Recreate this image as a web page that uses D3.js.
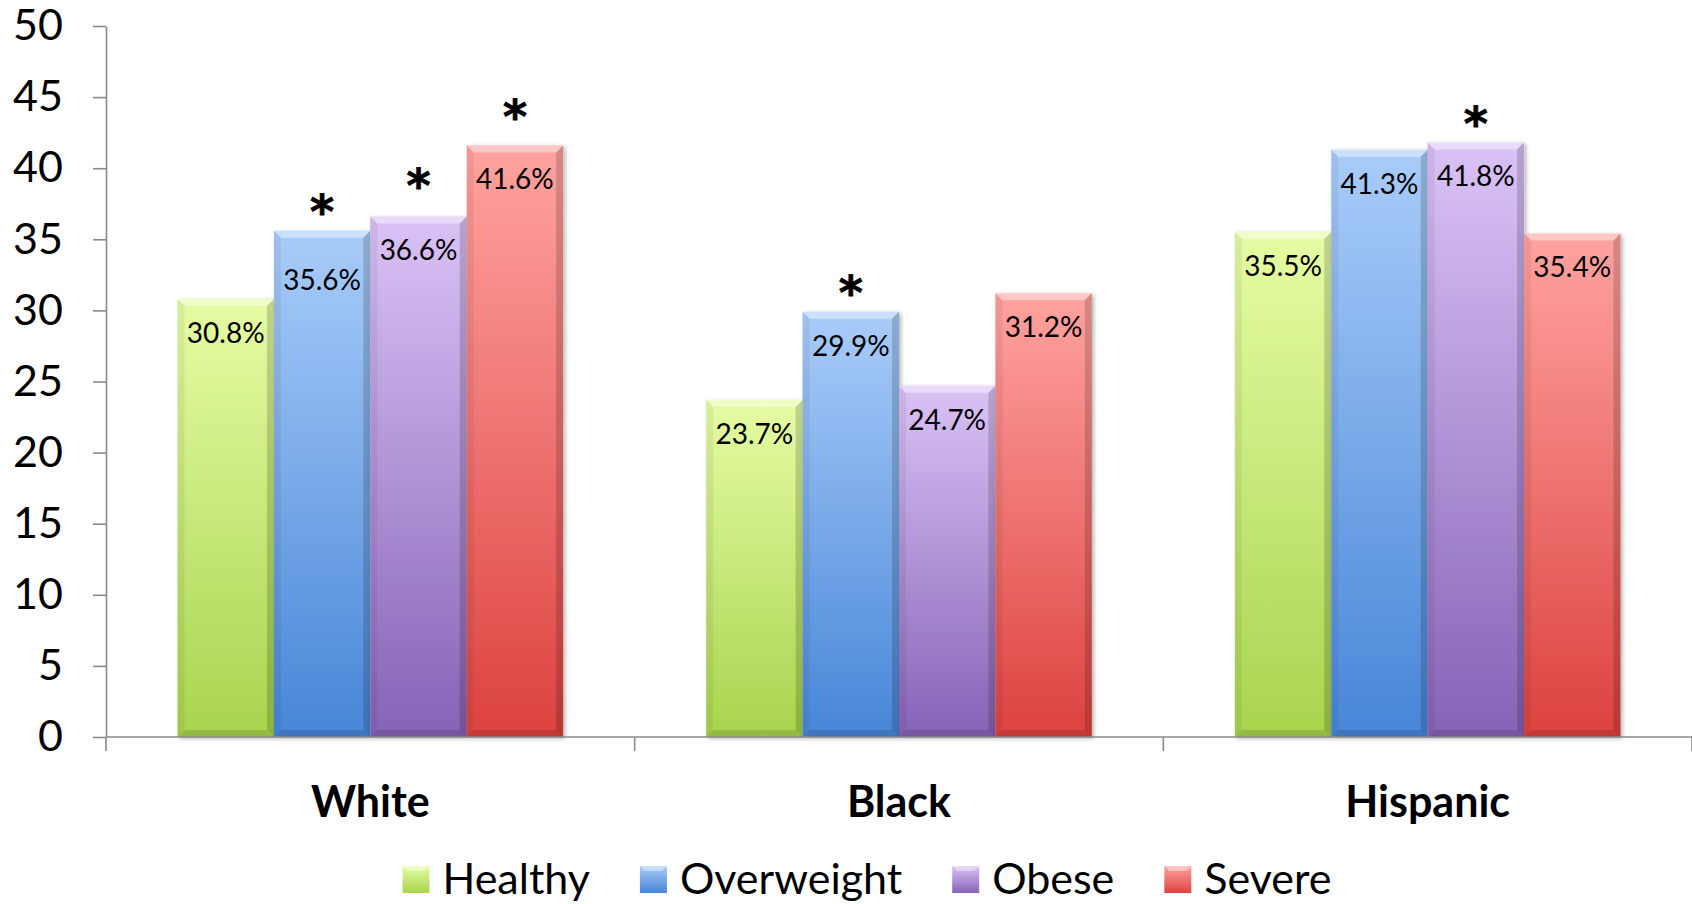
<!DOCTYPE html>
<html>
<head>
<meta charset="utf-8">
<script src="https://cdn.jsdelivr.net/npm/d3@7"></script>
<style>
  html, body { margin: 0; padding: 0; background: #ffffff; }
  svg { display: block; }
</style>
</head>
<body>
<svg id="chart" width="1692" height="904"></svg>
<script>
// Share of each weight group, by race/ethnicity (percent)
const categories = ["White", "Black", "Hispanic"];
const seriesNames = ["Healthy", "Overweight", "Obese", "Severe"];
const healthy    = [30.8, 23.7, 35.5];
const overweight = [35.6, 29.9, 41.3];
const obese      = [36.6, 24.7, 41.8];
const severe     = [41.6, 31.2, 35.4];
// groups flagged as significantly different
const significant = [
  { category: "White", series: "Overweight" },
  { category: "White", series: "Obese" },
  { category: "White", series: "Severe" },
  { category: "Black", series: "Overweight" },
  { category: "Hispanic", series: "Obese" }
];
const yTicks = [0, 5, 10, 15, 20, 25, 30, 35, 40, 45, 50];

const seriesValues = [healthy, overweight, obese, severe];
const rows = [];
categories.forEach((c, ci) => {
  seriesNames.forEach((s, si) => {
    rows.push({ category: c, series: s, value: seriesValues[si][ci] });
  });
});

// colours: light top, saturated bottom
const palette = {
  Healthy:    { top: "#e6fca4", bottom: "#a8d44e" },
  Overweight: { top: "#a9ccf9", bottom: "#4786d8" },
  Obese:      { top: "#dac2f6", bottom: "#8762b6" },
  Severe:     { top: "#ffa3a0", bottom: "#dc423f" }
};

const svg = d3.select("#chart");
const plotLeft = 106, plotRight = 1692, plotTop = 26, baseY = 737;

const x0 = d3.scaleBand().domain(categories).range([plotLeft, plotRight]).paddingInner(0).paddingOuter(0);
const x1 = d3.scaleBand().domain(seriesNames).range([0, x0.bandwidth()]).paddingInner(0).paddingOuter(0.742);
const y = d3.scaleLinear().domain([0, 50]).range([baseY, plotTop]);

const defs = svg.append("defs");
seriesNames.forEach(s => {
  const g = defs.append("linearGradient").attr("id", "grad-" + s)
    .attr("x1", 0).attr("y1", 0).attr("x2", 0).attr("y2", 1);
  g.append("stop").attr("offset", "0%").attr("stop-color", palette[s].top);
  g.append("stop").attr("offset", "100%").attr("stop-color", palette[s].bottom);
});
const sh = defs.append("filter").attr("id", "shadow")
  .attr("x", "-10%").attr("y", "-10%").attr("width", "130%").attr("height", "120%");
sh.append("feDropShadow").attr("dx", 2).attr("dy", 1.5).attr("stdDeviation", 2)
  .attr("flood-color", "#000").attr("flood-opacity", 0.3);

// y axis
const yAxis = d3.axisLeft(y).tickValues(yTicks).tickSize(13).tickPadding(30).tickSizeOuter(0);
const yg = svg.append("g").attr("transform", `translate(${plotLeft},0)`).call(yAxis);
yg.select(".domain").attr("stroke", "#8a8a8a").attr("stroke-width", 1.6);
yg.selectAll(".tick line").attr("stroke", "#8a8a8a").attr("stroke-width", 1.6);
yg.selectAll(".tick text")
  .attr("fill", "#000")
  .style("font-family", "Lato, 'Open Sans', sans-serif")
  .style("font-size", "43px");

// bars
const bevel = 7;
const barG = svg.append("g");
const bars = barG.selectAll("g.bar").data(rows).enter().append("g").attr("class", "bar")
  .attr("transform", d => `translate(${x0(d.category) + x1(d.series)},0)`);

bars.append("rect")
  .attr("x", 0).attr("width", x1.bandwidth())
  .attr("y", d => y(d.value)).attr("height", d => y(0) - y(d.value))
  .attr("fill", d => `url(#grad-${d.series})`)
  .attr("filter", "url(#shadow)");

const w = x1.bandwidth();
// bevel facets: top highlight, side and bottom shading
bars.append("path").attr("fill", "#ffffff").attr("opacity", 0.4)
  .attr("d", d => { const t = y(d.value); return `M0,${t}L${w},${t}L${w - bevel},${t + bevel}L${bevel},${t + bevel}Z`; });
bars.append("path").attr("fill", "#000").attr("opacity", 0.06)
  .attr("d", d => { const t = y(d.value), b = y(0); return `M0,${t}L${bevel},${t + bevel}L${bevel},${b - bevel}L0,${b}Z`; });
bars.append("path").attr("fill", "#000").attr("opacity", 0.16)
  .attr("d", d => { const t = y(d.value), b = y(0); return `M${w},${t}L${w - bevel},${t + bevel}L${w - bevel},${b - bevel}L${w},${b}Z`; });
bars.append("path").attr("fill", "#000").attr("opacity", 0.12)
  .attr("d", d => { const b = y(0); return `M0,${b}L${bevel},${b - bevel}L${w - bevel},${b - bevel}L${w},${b}Z`; });

// value labels inside the bar tops
const labelDrop = d => (d.category === "White" && d.series === "Overweight") ? 49 : 34;
bars.append("text")
  .attr("x", w / 2)
  .attr("y", d => y(d.value) + labelDrop(d))
  .attr("dy", "0.35em")
  .attr("text-anchor", "middle")
  .style("font-family", "Lato, 'Open Sans', sans-serif")
  .style("font-size", "28px")
  .attr("fill", "#000")
  .text(d => d.value.toFixed(1) + "%");

// significance markers
const starLift = d => (d.category === "White" && d.series === "Obese") ? 41
  : (d.category === "White" && d.series === "Severe") ? 38 : 29;
const starRows = rows.filter(r => significant.some(s => s.category === r.category && s.series === r.series));
svg.append("g").selectAll("text").data(starRows).enter().append("text")
  .attr("x", d => x0(d.category) + x1(d.series) + w / 2)
  .attr("y", d => y(d.value) - starLift(d) + 26)
  .attr("text-anchor", "middle")
  .style("font-family", "'DejaVu Sans', sans-serif")
  .style("font-weight", "bold")
  .style("font-size", "46px")
  .attr("fill", "#000")
  .attr("stroke", "#000")
  .attr("stroke-width", 0.8)
  .text("*");

// x axis: baseline with boundary ticks and category names
const xg = svg.append("g");
xg.append("line").attr("x1", plotLeft).attr("x2", plotRight).attr("y1", baseY).attr("y2", baseY)
  .attr("stroke", "#8a8a8a").attr("stroke-width", 1.6);
const bounds = categories.map(c => x0(c)).concat([x0(categories[categories.length - 1]) + x0.bandwidth()]);
xg.selectAll("line.tick").data(bounds).enter().append("line").attr("class", "tick")
  .attr("x1", d => d).attr("x2", d => d).attr("y1", baseY).attr("y2", baseY + 14)
  .attr("stroke", "#8a8a8a").attr("stroke-width", 1.6);
xg.selectAll("text").data(categories).enter().append("text")
  .attr("x", d => x0(d) + x0.bandwidth() / 2)
  .attr("y", 817)
  .attr("text-anchor", "middle")
  .style("font-family", "Lato, 'Open Sans', sans-serif")
  .style("font-weight", "bold")
  .style("font-size", "43px")
  .attr("fill", "#000")
  .text(d => d);

// legend
const legend = svg.append("g");
const sw = 27, swGap = 13, itemGap = 50, legendBase = 894;
const items = legend.selectAll("g").data(seriesNames).enter().append("g");
items.append("rect").attr("width", sw).attr("height", sw).attr("y", legendBase - 28)
  .attr("fill", d => `url(#grad-${d})`);
items.append("path").attr("fill", "#fff").attr("opacity", 0.4)
  .attr("d", `M0,${legendBase - 28}L${sw},${legendBase - 28}L${sw - 5},${legendBase - 23}L5,${legendBase - 23}Z`);
items.append("text").attr("x", sw + swGap).attr("y", legendBase)
  .style("font-family", "Lato, 'Open Sans', sans-serif")
  .style("font-size", "43px")
  .attr("fill", "#000")
  .text(d => d);
let cursor = 0;
const widths = [];
items.each(function () {
  const tw = d3.select(this).select("text").node().getComputedTextLength();
  widths.push(sw + swGap + tw);
});
const total = d3.sum(widths) + itemGap * (widths.length - 1);
const startX = 867 - total / 2;
items.attr("transform", (d, i) => {
  const tx = startX + cursor;
  cursor += widths[i] + itemGap;
  return `translate(${tx},0)`;
});
</script>
</body>
</html>
